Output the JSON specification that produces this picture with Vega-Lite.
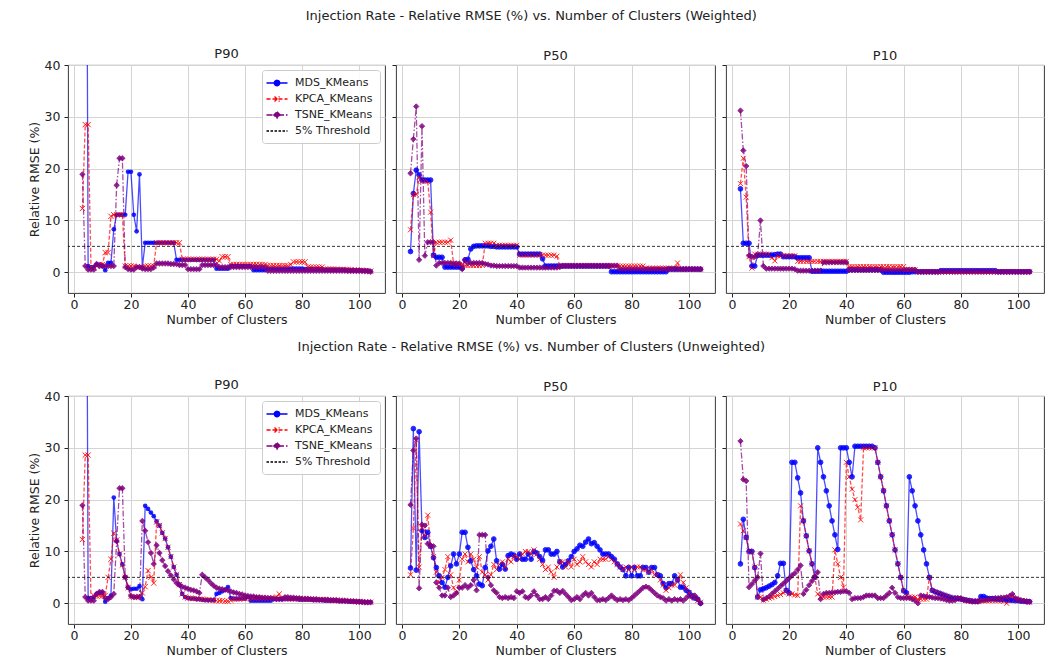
{
"$schema": "https://vega.github.io/schema/vega-lite/v6.json",
"background": "white",
"padding": {"left": 27, "top": 9, "right": 5, "bottom": 5},
"config": {
  "font": "DejaVu Sans",
  "view": {"stroke": "#222222", "strokeWidth": 0.9},
  "axis": {"domain": false, "grid": true, "gridColor": "#d4d4d4", "gridWidth": 1, "tickColor": "#222222", "tickSize": 4, "labelFontSize": 12.5, "labelColor": "#222222", "titleFontSize": 12.5, "titleFontWeight": "normal", "titleColor": "#222222", "labelPadding": 1, "titlePadding": 3},
  "title": {"fontSize": 13, "fontWeight": "normal", "color": "#222222", "offset": 2}
},
"datasets": {
"wp90": [
{"x":3,"mds":150,"kpca":12.3,"tsne":18.9},{"x":4,"mds":150,"kpca":28.5,"tsne":1.2},{"x":5,"mds":1.2,"kpca":28.5,"tsne":0.5},{"x":6,"mds":1.0,"kpca":1.0,"tsne":0.5},{"x":7,"mds":1.0,"kpca":0.8,"tsne":0.5},{"x":8,"mds":1.5,"kpca":1.2,"tsne":1.6},{"x":9,"mds":1.5,"kpca":1.5,"tsne":1.2},{"x":10,"mds":1.2,"kpca":1.5,"tsne":1.2},{"x":11,"mds":0.4,"kpca":3.8,"tsne":1.2},{"x":12,"mds":1.8,"kpca":3.8,"tsne":1.2},{"x":13,"mds":1.8,"kpca":10.8,"tsne":1.2},{"x":14,"mds":8.3,"kpca":11.1,"tsne":1.2},{"x":15,"mds":11.1,"kpca":11.1,"tsne":16.8},{"x":16,"mds":11.1,"kpca":11.1,"tsne":22},{"x":17,"mds":11.1,"kpca":11.1,"tsne":22},{"x":18,"mds":11.1,"kpca":1.2,"tsne":1.0},{"x":19,"mds":19.4,"kpca":1.2,"tsne":0.6},{"x":20,"mds":19.4,"kpca":1.2,"tsne":0.5},{"x":21,"mds":11.1,"kpca":1.2,"tsne":0.5},{"x":22,"mds":7.9,"kpca":1.0,"tsne":1.0},{"x":23,"mds":18.9,"kpca":1.0,"tsne":1.0},{"x":24,"mds":0.9,"kpca":1.0,"tsne":0.7},{"x":25,"mds":5.7,"kpca":1.2,"tsne":0.6},{"x":26,"mds":5.7,"kpca":1.2,"tsne":0.6},{"x":27,"mds":5.7,"kpca":1.2,"tsne":0.6},{"x":28,"mds":5.7,"kpca":1.2,"tsne":0.9},{"x":29,"mds":5.7,"kpca":5.7,"tsne":1.7},{"x":30,"mds":5.7,"kpca":5.7,"tsne":1.7},{"x":31,"mds":5.7,"kpca":5.7,"tsne":1.7},{"x":32,"mds":5.7,"kpca":5.7,"tsne":1.7},{"x":33,"mds":5.7,"kpca":5.7,"tsne":1.7},{"x":34,"mds":5.7,"kpca":5.7,"tsne":1.6},{"x":35,"mds":5.7,"kpca":5.7,"tsne":1.6},{"x":36,"mds":2.4,"kpca":5.7,"tsne":1.6},{"x":37,"mds":2.4,"kpca":5.7,"tsne":1.4},{"x":38,"mds":2.4,"kpca":2.5,"tsne":1.4},{"x":39,"mds":2.4,"kpca":2.5,"tsne":1.4},{"x":40,"mds":2.4,"kpca":2.5,"tsne":0.6},{"x":41,"mds":2.4,"kpca":2.5,"tsne":0.6},{"x":42,"mds":2.4,"kpca":2.5,"tsne":0.6},{"x":43,"mds":2.4,"kpca":2.5,"tsne":0.6},{"x":44,"mds":2.4,"kpca":2.5,"tsne":0.6},{"x":45,"mds":2.4,"kpca":2.5,"tsne":1.4},{"x":46,"mds":2.4,"kpca":2.5,"tsne":1.4},{"x":47,"mds":2.4,"kpca":2.5,"tsne":1.4},{"x":48,"mds":2.4,"kpca":2.5,"tsne":1.4},{"x":49,"mds":2.4,"kpca":2.5,"tsne":1.4},{"x":50,"mds":0.7,"kpca":2.5,"tsne":1.4},{"x":51,"mds":0.7,"kpca":2.2,"tsne":1.0},{"x":52,"mds":0.7,"kpca":3.0,"tsne":1.0},{"x":53,"mds":0.7,"kpca":3.0,"tsne":1.0},{"x":54,"mds":0.7,"kpca":3.0,"tsne":1.0},{"x":55,"mds":1.2,"kpca":1.5,"tsne":1.0},{"x":56,"mds":1.2,"kpca":1.5,"tsne":1.0},{"x":57,"mds":1.2,"kpca":1.5,"tsne":1.0},{"x":58,"mds":1.2,"kpca":1.5,"tsne":1.0},{"x":59,"mds":1.2,"kpca":1.5,"tsne":1.0},{"x":60,"mds":1.2,"kpca":1.5,"tsne":1.0},{"x":61,"mds":1.2,"kpca":1.5,"tsne":1.0},{"x":62,"mds":1.2,"kpca":1.5,"tsne":1.0},{"x":63,"mds":0.4,"kpca":1.5,"tsne":1.0},{"x":64,"mds":0.4,"kpca":1.5,"tsne":1.0},{"x":65,"mds":0.4,"kpca":1.5,"tsne":1.0},{"x":66,"mds":0.4,"kpca":1.5,"tsne":1.0},{"x":67,"mds":0.4,"kpca":1.5,"tsne":1.0},{"x":68,"mds":0.7,"kpca":1.3,"tsne":0.3},{"x":69,"mds":0.7,"kpca":1.3,"tsne":0.3},{"x":70,"mds":0.7,"kpca":1.3,"tsne":0.3},{"x":71,"mds":0.7,"kpca":1.3,"tsne":0.3},{"x":72,"mds":0.7,"kpca":1.3,"tsne":0.3},{"x":73,"mds":0.7,"kpca":1.3,"tsne":0.3},{"x":74,"mds":0.7,"kpca":1.3,"tsne":0.3},{"x":75,"mds":0.7,"kpca":1.3,"tsne":0.3},{"x":76,"mds":0.7,"kpca":1.5,"tsne":0.3},{"x":77,"mds":0.7,"kpca":2.0,"tsne":0.3},{"x":78,"mds":0.7,"kpca":2.0,"tsne":0.3},{"x":79,"mds":0.7,"kpca":2.0,"tsne":0.3},{"x":80,"mds":0.7,"kpca":2.0,"tsne":0.3},{"x":81,"mds":0.6,"kpca":2.0,"tsne":0.3},{"x":82,"mds":0.6,"kpca":1.0,"tsne":0.3},{"x":83,"mds":0.6,"kpca":1.0,"tsne":0.3},{"x":84,"mds":0.6,"kpca":1.0,"tsne":0.3},{"x":85,"mds":0.6,"kpca":1.0,"tsne":0.3},{"x":86,"mds":0.6,"kpca":1.0,"tsne":0.3},{"x":87,"mds":0.6,"kpca":1.0,"tsne":0.3},{"x":88,"mds":0.5,"kpca":0.6,"tsne":0.3},{"x":89,"mds":0.5,"kpca":0.6,"tsne":0.3},{"x":90,"mds":0.5,"kpca":0.6,"tsne":0.3},{"x":91,"mds":0.5,"kpca":0.6,"tsne":0.3},{"x":92,"mds":0.5,"kpca":0.6,"tsne":0.3},{"x":93,"mds":0.5,"kpca":0.5,"tsne":0.3},{"x":94,"mds":0.5,"kpca":0.5,"tsne":0.3},{"x":95,"mds":0.5,"kpca":0.5,"tsne":0.3},{"x":96,"mds":0.4,"kpca":0.5,"tsne":0.25},{"x":97,"mds":0.4,"kpca":0.5,"tsne":0.25},{"x":98,"mds":0.4,"kpca":0.4,"tsne":0.25},{"x":99,"mds":0.4,"kpca":0.4,"tsne":0.25},{"x":100,"mds":0.4,"kpca":0.4,"tsne":0.25},{"x":101,"mds":0.3,"kpca":0.4,"tsne":0.25},{"x":102,"mds":0.3,"kpca":0.3,"tsne":0.2},{"x":103,"mds":0.3,"kpca":0.3,"tsne":0.2},{"x":104,"mds":0.2,"kpca":0.2,"tsne":0.1}
],
"wp50": [
{"x":3,"mds":4.0,"kpca":8.2,"tsne":19.1},{"x":4,"mds":15.2,"kpca":15.0,"tsne":25.7},{"x":5,"mds":19.7,"kpca":15.0,"tsne":32.0},{"x":6,"mds":18.8,"kpca":18.3,"tsne":2.4},{"x":7,"mds":17.8,"kpca":17.6,"tsne":28.2},{"x":8,"mds":17.8,"kpca":17.6,"tsne":3.2},{"x":9,"mds":17.8,"kpca":17.5,"tsne":5.8},{"x":10,"mds":17.8,"kpca":11.6,"tsne":5.8},{"x":11,"mds":3.3,"kpca":3.2,"tsne":5.8},{"x":12,"mds":2.9,"kpca":5.8,"tsne":1.3},{"x":13,"mds":2.9,"kpca":5.8,"tsne":1.8},{"x":14,"mds":2.9,"kpca":5.8,"tsne":1.8},{"x":15,"mds":1.0,"kpca":5.8,"tsne":1.8},{"x":16,"mds":1.0,"kpca":5.8,"tsne":1.8},{"x":17,"mds":1.0,"kpca":6.2,"tsne":1.8},{"x":18,"mds":1.0,"kpca":1.7,"tsne":1.7},{"x":19,"mds":1.0,"kpca":1.5,"tsne":1.7},{"x":20,"mds":1.0,"kpca":1.5,"tsne":1.7},{"x":21,"mds":0.8,"kpca":1.5,"tsne":0.6},{"x":22,"mds":2.4,"kpca":1.3,"tsne":2.4},{"x":23,"mds":2.5,"kpca":1.3,"tsne":1.8},{"x":24,"mds":4.5,"kpca":1.3,"tsne":1.8},{"x":25,"mds":5.0,"kpca":1.3,"tsne":1.8},{"x":26,"mds":5.1,"kpca":1.3,"tsne":1.8},{"x":27,"mds":5.1,"kpca":1.3,"tsne":1.8},{"x":28,"mds":5.1,"kpca":1.3,"tsne":1.8},{"x":29,"mds":5.1,"kpca":5.6,"tsne":1.6},{"x":30,"mds":5.1,"kpca":5.6,"tsne":1.5},{"x":31,"mds":5.0,"kpca":5.6,"tsne":1.3},{"x":32,"mds":5.0,"kpca":5.6,"tsne":1.3},{"x":33,"mds":4.9,"kpca":5.2,"tsne":1.2},{"x":34,"mds":4.9,"kpca":5.2,"tsne":1.2},{"x":35,"mds":4.9,"kpca":5.2,"tsne":1.2},{"x":36,"mds":4.9,"kpca":5.2,"tsne":1.2},{"x":37,"mds":4.9,"kpca":5.2,"tsne":1.2},{"x":38,"mds":4.9,"kpca":5.2,"tsne":1.2},{"x":39,"mds":4.9,"kpca":5.2,"tsne":1.2},{"x":40,"mds":4.9,"kpca":5.2,"tsne":1.2},{"x":41,"mds":3.5,"kpca":3.3,"tsne":0.9},{"x":42,"mds":3.5,"kpca":3.3,"tsne":0.9},{"x":43,"mds":3.5,"kpca":3.3,"tsne":0.9},{"x":44,"mds":3.5,"kpca":3.3,"tsne":0.9},{"x":45,"mds":3.5,"kpca":3.3,"tsne":0.9},{"x":46,"mds":3.5,"kpca":3.3,"tsne":0.9},{"x":47,"mds":3.5,"kpca":3.3,"tsne":0.9},{"x":48,"mds":3.5,"kpca":3.3,"tsne":0.9},{"x":49,"mds":2.6,"kpca":3.3,"tsne":0.9},{"x":50,"mds":1.2,"kpca":3.3,"tsne":0.9},{"x":51,"mds":1.2,"kpca":3.3,"tsne":0.9},{"x":52,"mds":1.2,"kpca":3.3,"tsne":0.9},{"x":53,"mds":1.2,"kpca":3.3,"tsne":0.9},{"x":54,"mds":1.2,"kpca":3.1,"tsne":0.9},{"x":55,"mds":1.2,"kpca":1.2,"tsne":1.0},{"x":56,"mds":1.2,"kpca":1.2,"tsne":1.3},{"x":57,"mds":1.2,"kpca":1.2,"tsne":1.3},{"x":58,"mds":1.2,"kpca":1.2,"tsne":1.3},{"x":59,"mds":1.2,"kpca":1.2,"tsne":1.3},{"x":60,"mds":1.2,"kpca":1.2,"tsne":1.3},{"x":61,"mds":1.2,"kpca":1.2,"tsne":1.3},{"x":62,"mds":1.2,"kpca":1.2,"tsne":1.3},{"x":63,"mds":1.2,"kpca":1.2,"tsne":1.3},{"x":64,"mds":1.2,"kpca":1.2,"tsne":1.3},{"x":65,"mds":1.2,"kpca":1.2,"tsne":1.3},{"x":66,"mds":1.2,"kpca":1.2,"tsne":1.3},{"x":67,"mds":1.2,"kpca":1.2,"tsne":1.3},{"x":68,"mds":1.2,"kpca":1.2,"tsne":1.3},{"x":69,"mds":1.2,"kpca":1.2,"tsne":1.3},{"x":70,"mds":1.2,"kpca":1.2,"tsne":1.3},{"x":71,"mds":1.2,"kpca":1.2,"tsne":1.3},{"x":72,"mds":1.2,"kpca":1.2,"tsne":1.3},{"x":73,"mds":0.1,"kpca":1.2,"tsne":1.3},{"x":74,"mds":0.1,"kpca":1.2,"tsne":1.3},{"x":75,"mds":0.1,"kpca":1.2,"tsne":1.3},{"x":76,"mds":0.1,"kpca":1.2,"tsne":0.6},{"x":77,"mds":0.1,"kpca":1.2,"tsne":0.6},{"x":78,"mds":0.1,"kpca":1.2,"tsne":0.6},{"x":79,"mds":0.1,"kpca":1.2,"tsne":0.6},{"x":80,"mds":0.1,"kpca":1.2,"tsne":0.6},{"x":81,"mds":0.1,"kpca":1.2,"tsne":0.6},{"x":82,"mds":0.1,"kpca":1.2,"tsne":0.6},{"x":83,"mds":0.1,"kpca":1.2,"tsne":0.6},{"x":84,"mds":0.1,"kpca":1.2,"tsne":0.6},{"x":85,"mds":0.1,"kpca":0.8,"tsne":0.6},{"x":86,"mds":0.1,"kpca":0.8,"tsne":0.6},{"x":87,"mds":0.1,"kpca":0.8,"tsne":0.6},{"x":88,"mds":0.1,"kpca":0.8,"tsne":0.6},{"x":89,"mds":0.1,"kpca":0.8,"tsne":0.6},{"x":90,"mds":0.1,"kpca":0.8,"tsne":0.6},{"x":91,"mds":0.1,"kpca":0.8,"tsne":0.6},{"x":92,"mds":0.1,"kpca":0.8,"tsne":0.6},{"x":93,"mds":0.6,"kpca":0.8,"tsne":0.6},{"x":94,"mds":0.6,"kpca":0.8,"tsne":0.6},{"x":95,"mds":0.6,"kpca":0.8,"tsne":0.6},{"x":96,"mds":0.6,"kpca":1.8,"tsne":0.6},{"x":97,"mds":0.6,"kpca":0.6,"tsne":0.6},{"x":98,"mds":0.6,"kpca":0.6,"tsne":0.6},{"x":99,"mds":0.6,"kpca":0.6,"tsne":0.6},{"x":100,"mds":0.6,"kpca":0.6,"tsne":0.6},{"x":101,"mds":0.6,"kpca":0.6,"tsne":0.6},{"x":102,"mds":0.6,"kpca":0.6,"tsne":0.6},{"x":103,"mds":0.6,"kpca":0.6,"tsne":0.6},{"x":104,"mds":0.6,"kpca":0.6,"tsne":0.6}
],
"wp10": [
{"x":3,"mds":16.1,"kpca":17.1,"tsne":31.2},{"x":4,"mds":5.6,"kpca":22.0,"tsne":23.5},{"x":5,"mds":5.6,"kpca":14.5,"tsne":20.5},{"x":6,"mds":5.6,"kpca":3.0,"tsne":3.2},{"x":7,"mds":1.2,"kpca":0.8,"tsne":3.0},{"x":8,"mds":1.2,"kpca":3.5,"tsne":3.0},{"x":9,"mds":3.3,"kpca":3.5,"tsne":3.2},{"x":10,"mds":3.3,"kpca":3.5,"tsne":10.0},{"x":11,"mds":3.3,"kpca":3.5,"tsne":1.2},{"x":12,"mds":3.3,"kpca":3.5,"tsne":0.7},{"x":13,"mds":3.3,"kpca":3.5,"tsne":0.7},{"x":14,"mds":3.3,"kpca":2.8,"tsne":0.7},{"x":15,"mds":3.4,"kpca":2.2,"tsne":0.7},{"x":16,"mds":3.5,"kpca":3.2,"tsne":0.7},{"x":17,"mds":3.5,"kpca":3.2,"tsne":0.7},{"x":18,"mds":3.0,"kpca":3.2,"tsne":0.7},{"x":19,"mds":3.0,"kpca":3.2,"tsne":0.7},{"x":20,"mds":3.0,"kpca":3.2,"tsne":0.7},{"x":21,"mds":3.0,"kpca":3.2,"tsne":0.7},{"x":22,"mds":3.0,"kpca":3.2,"tsne":0.6},{"x":23,"mds":2.8,"kpca":2.1,"tsne":0.3},{"x":24,"mds":2.8,"kpca":2.1,"tsne":0.3},{"x":25,"mds":2.8,"kpca":2.1,"tsne":0.3},{"x":26,"mds":2.8,"kpca":2.1,"tsne":0.3},{"x":27,"mds":2.8,"kpca":2.1,"tsne":0.3},{"x":28,"mds":0.2,"kpca":2.1,"tsne":0.3},{"x":29,"mds":0.2,"kpca":2.1,"tsne":0.3},{"x":30,"mds":0.2,"kpca":2.1,"tsne":0.3},{"x":31,"mds":0.2,"kpca":2.1,"tsne":0.3},{"x":32,"mds":0.2,"kpca":2.1,"tsne":1.9},{"x":33,"mds":0.2,"kpca":2.1,"tsne":1.9},{"x":34,"mds":0.2,"kpca":2.1,"tsne":1.9},{"x":35,"mds":0.2,"kpca":2.1,"tsne":1.9},{"x":36,"mds":0.2,"kpca":2.1,"tsne":1.9},{"x":37,"mds":0.2,"kpca":2.1,"tsne":1.9},{"x":38,"mds":0.2,"kpca":2.1,"tsne":1.9},{"x":39,"mds":0.2,"kpca":2.1,"tsne":1.9},{"x":40,"mds":0.2,"kpca":2.1,"tsne":1.9},{"x":41,"mds":0.5,"kpca":1.1,"tsne":0.4},{"x":42,"mds":0.5,"kpca":1.1,"tsne":0.4},{"x":43,"mds":0.5,"kpca":1.1,"tsne":0.4},{"x":44,"mds":0.5,"kpca":1.1,"tsne":0.4},{"x":45,"mds":0.5,"kpca":1.1,"tsne":0.4},{"x":46,"mds":0.5,"kpca":1.1,"tsne":0.4},{"x":47,"mds":0.5,"kpca":1.1,"tsne":0.4},{"x":48,"mds":0.5,"kpca":1.1,"tsne":0.4},{"x":49,"mds":0.5,"kpca":1.1,"tsne":0.4},{"x":50,"mds":0.5,"kpca":1.1,"tsne":0.4},{"x":51,"mds":0.5,"kpca":1.1,"tsne":0.4},{"x":52,"mds":0.5,"kpca":1.1,"tsne":0.4},{"x":53,"mds":0.0,"kpca":1.1,"tsne":0.4},{"x":54,"mds":0.0,"kpca":1.1,"tsne":0.4},{"x":55,"mds":0.0,"kpca":1.1,"tsne":0.4},{"x":56,"mds":0.0,"kpca":1.1,"tsne":0.4},{"x":57,"mds":0.0,"kpca":1.1,"tsne":0.4},{"x":58,"mds":0.0,"kpca":1.1,"tsne":0.4},{"x":59,"mds":0.0,"kpca":1.1,"tsne":0.4},{"x":60,"mds":0.0,"kpca":1.1,"tsne":0.4},{"x":61,"mds":0.0,"kpca":0.5,"tsne":0.5},{"x":62,"mds":0.0,"kpca":0.5,"tsne":0.5},{"x":63,"mds":0.1,"kpca":0.5,"tsne":0.5},{"x":64,"mds":0.1,"kpca":0.5,"tsne":0.5},{"x":65,"mds":0.1,"kpca":0.1,"tsne":0.1},{"x":66,"mds":0.1,"kpca":0.1,"tsne":0.1},{"x":67,"mds":0.1,"kpca":0.1,"tsne":0.1},{"x":68,"mds":0.1,"kpca":0.1,"tsne":0.1},{"x":69,"mds":0.1,"kpca":0.1,"tsne":0.1},{"x":70,"mds":0.1,"kpca":0.1,"tsne":0.1},{"x":71,"mds":0.1,"kpca":0.1,"tsne":0.1},{"x":72,"mds":0.1,"kpca":0.1,"tsne":0.1},{"x":73,"mds":0.3,"kpca":0.1,"tsne":0.1},{"x":74,"mds":0.3,"kpca":0.1,"tsne":0.1},{"x":75,"mds":0.3,"kpca":0.1,"tsne":0.1},{"x":76,"mds":0.3,"kpca":0.1,"tsne":0.1},{"x":77,"mds":0.3,"kpca":0.1,"tsne":0.1},{"x":78,"mds":0.3,"kpca":0.1,"tsne":0.1},{"x":79,"mds":0.3,"kpca":0.1,"tsne":0.1},{"x":80,"mds":0.3,"kpca":0.1,"tsne":0.1},{"x":81,"mds":0.3,"kpca":0.1,"tsne":0.1},{"x":82,"mds":0.3,"kpca":0.1,"tsne":0.1},{"x":83,"mds":0.3,"kpca":0.1,"tsne":0.1},{"x":84,"mds":0.3,"kpca":0.1,"tsne":0.1},{"x":85,"mds":0.3,"kpca":0.1,"tsne":0.1},{"x":86,"mds":0.3,"kpca":0.1,"tsne":0.1},{"x":87,"mds":0.3,"kpca":0.1,"tsne":0.1},{"x":88,"mds":0.3,"kpca":0.1,"tsne":0.1},{"x":89,"mds":0.3,"kpca":0.1,"tsne":0.1},{"x":90,"mds":0.3,"kpca":0.1,"tsne":0.1},{"x":91,"mds":0.3,"kpca":0.1,"tsne":0.1},{"x":92,"mds":0.3,"kpca":0.1,"tsne":0.1},{"x":93,"mds":0.1,"kpca":0.1,"tsne":0.1},{"x":94,"mds":0.1,"kpca":0.1,"tsne":0.1},{"x":95,"mds":0.1,"kpca":0.1,"tsne":0.1},{"x":96,"mds":0.1,"kpca":0.1,"tsne":0.1},{"x":97,"mds":0.1,"kpca":0.1,"tsne":0.1},{"x":98,"mds":0.1,"kpca":0.1,"tsne":0.1},{"x":99,"mds":0.1,"kpca":0.1,"tsne":0.1},{"x":100,"mds":0.1,"kpca":0.1,"tsne":0.1},{"x":101,"mds":0.1,"kpca":0.1,"tsne":0.1},{"x":102,"mds":0.1,"kpca":0.1,"tsne":0.1},{"x":103,"mds":0.1,"kpca":0.1,"tsne":0.1},{"x":104,"mds":0.1,"kpca":0.1,"tsne":0.1}
],
"up90": [
{"x":3,"mds":150,"kpca":12.3,"tsne":18.9},{"x":4,"mds":150,"kpca":28.6,"tsne":1.2},{"x":5,"mds":1.0,"kpca":28.6,"tsne":0.5},{"x":6,"mds":1.0,"kpca":1.0,"tsne":0.5},{"x":7,"mds":1.2,"kpca":1.5,"tsne":0.5},{"x":8,"mds":1.8,"kpca":1.4,"tsne":1.8},{"x":9,"mds":2.0,"kpca":1.4,"tsne":2.2},{"x":10,"mds":2.0,"kpca":1.4,"tsne":2.2},{"x":11,"mds":0.3,"kpca":1.5,"tsne":1.0},{"x":12,"mds":1.0,"kpca":5.0,"tsne":0.8},{"x":13,"mds":1.5,"kpca":8.5,"tsne":1.2},{"x":14,"mds":20.4,"kpca":13.5,"tsne":1.8},{"x":15,"mds":12.0,"kpca":12.2,"tsne":12.0},{"x":16,"mds":9.5,"kpca":9.5,"tsne":22.2},{"x":17,"mds":7.5,"kpca":7.4,"tsne":22.2},{"x":18,"mds":5.0,"kpca":5.0,"tsne":5.1},{"x":19,"mds":3.0,"kpca":3.0,"tsne":3.1},{"x":20,"mds":2.7,"kpca":1.3,"tsne":1.4},{"x":21,"mds":2.8,"kpca":1.2,"tsne":1.2},{"x":22,"mds":2.8,"kpca":1.2,"tsne":1.2},{"x":23,"mds":3.3,"kpca":1.3,"tsne":1.2},{"x":24,"mds":0.8,"kpca":2.0,"tsne":15.9},{"x":25,"mds":18.8,"kpca":3.2,"tsne":14.0},{"x":26,"mds":18.2,"kpca":6.3,"tsne":11.8},{"x":27,"mds":17.5,"kpca":5.0,"tsne":9.7},{"x":28,"mds":16.8,"kpca":3.9,"tsne":7.6},{"x":29,"mds":15.8,"kpca":15.7,"tsne":11.2},{"x":30,"mds":15.0,"kpca":15.0,"tsne":9.7},{"x":31,"mds":13.6,"kpca":13.6,"tsne":8.3},{"x":32,"mds":12.5,"kpca":12.5,"tsne":7.2},{"x":33,"mds":10.8,"kpca":10.8,"tsne":6.2},{"x":34,"mds":9.0,"kpca":9.0,"tsne":5.4},{"x":35,"mds":7.0,"kpca":7.0,"tsne":4.6},{"x":36,"mds":5.5,"kpca":5.5,"tsne":3.9},{"x":37,"mds":3.6,"kpca":3.6,"tsne":3.5},{"x":38,"mds":1.8,"kpca":1.8,"tsne":3.2},{"x":39,"mds":1.2,"kpca":1.2,"tsne":3.0},{"x":40,"mds":1.0,"kpca":1.0,"tsne":2.8},{"x":41,"mds":0.9,"kpca":1.0,"tsne":2.6},{"x":42,"mds":0.9,"kpca":0.9,"tsne":2.5},{"x":43,"mds":0.8,"kpca":0.9,"tsne":2.3},{"x":44,"mds":0.8,"kpca":0.8,"tsne":2.0},{"x":45,"mds":0.7,"kpca":0.8,"tsne":5.5},{"x":46,"mds":0.6,"kpca":0.7,"tsne":5.0},{"x":47,"mds":0.6,"kpca":0.7,"tsne":4.5},{"x":48,"mds":0.6,"kpca":0.6,"tsne":3.9},{"x":49,"mds":0.6,"kpca":0.6,"tsne":3.4},{"x":50,"mds":1.8,"kpca":0.5,"tsne":3.0},{"x":51,"mds":2.0,"kpca":0.5,"tsne":2.8},{"x":52,"mds":2.3,"kpca":0.5,"tsne":2.7},{"x":53,"mds":2.6,"kpca":0.4,"tsne":2.6},{"x":54,"mds":3.1,"kpca":0.4,"tsne":2.5},{"x":55,"mds":1.0,"kpca":0.6,"tsne":2.3},{"x":56,"mds":0.9,"kpca":0.8,"tsne":2.1},{"x":57,"mds":0.9,"kpca":0.8,"tsne":2.0},{"x":58,"mds":0.9,"kpca":0.8,"tsne":1.8},{"x":59,"mds":0.9,"kpca":0.9,"tsne":1.7},{"x":60,"mds":0.9,"kpca":0.9,"tsne":1.5},{"x":61,"mds":1.2,"kpca":1.0,"tsne":1.4},{"x":62,"mds":0.5,"kpca":1.0,"tsne":1.3},{"x":63,"mds":0.5,"kpca":1.0,"tsne":1.3},{"x":64,"mds":0.5,"kpca":1.0,"tsne":1.2},{"x":65,"mds":0.5,"kpca":1.0,"tsne":1.2},{"x":66,"mds":0.5,"kpca":1.0,"tsne":1.1},{"x":67,"mds":0.5,"kpca":1.0,"tsne":1.1},{"x":68,"mds":0.5,"kpca":1.0,"tsne":1.0},{"x":69,"mds":0.5,"kpca":1.0,"tsne":1.0},{"x":70,"mds":0.8,"kpca":1.0,"tsne":0.9},{"x":71,"mds":0.8,"kpca":1.2,"tsne":0.8},{"x":72,"mds":0.8,"kpca":1.8,"tsne":0.8},{"x":73,"mds":0.8,"kpca":1.0,"tsne":0.8},{"x":74,"mds":0.8,"kpca":0.9,"tsne":1.2},{"x":75,"mds":0.8,"kpca":0.9,"tsne":1.2},{"x":76,"mds":0.8,"kpca":0.9,"tsne":1.1},{"x":77,"mds":0.8,"kpca":0.9,"tsne":1.1},{"x":78,"mds":0.8,"kpca":0.9,"tsne":1.0},{"x":79,"mds":0.7,"kpca":0.9,"tsne":1.0},{"x":80,"mds":0.7,"kpca":0.8,"tsne":0.9},{"x":81,"mds":0.7,"kpca":0.8,"tsne":0.9},{"x":82,"mds":0.7,"kpca":0.8,"tsne":0.9},{"x":83,"mds":0.7,"kpca":0.8,"tsne":0.8},{"x":84,"mds":0.6,"kpca":0.8,"tsne":0.8},{"x":85,"mds":0.6,"kpca":0.7,"tsne":0.8},{"x":86,"mds":0.6,"kpca":0.7,"tsne":0.7},{"x":87,"mds":0.6,"kpca":0.7,"tsne":0.7},{"x":88,"mds":0.5,"kpca":0.7,"tsne":0.7},{"x":89,"mds":0.5,"kpca":0.6,"tsne":0.7},{"x":90,"mds":0.5,"kpca":0.6,"tsne":0.6},{"x":91,"mds":0.5,"kpca":0.6,"tsne":0.6},{"x":92,"mds":0.5,"kpca":0.6,"tsne":0.6},{"x":93,"mds":0.4,"kpca":0.5,"tsne":0.5},{"x":94,"mds":0.4,"kpca":0.5,"tsne":0.5},{"x":95,"mds":0.4,"kpca":0.5,"tsne":0.5},{"x":96,"mds":0.4,"kpca":0.4,"tsne":0.4},{"x":97,"mds":0.3,"kpca":0.4,"tsne":0.4},{"x":98,"mds":0.3,"kpca":0.4,"tsne":0.4},{"x":99,"mds":0.3,"kpca":0.3,"tsne":0.3},{"x":100,"mds":0.3,"kpca":0.3,"tsne":0.3},{"x":101,"mds":0.2,"kpca":0.3,"tsne":0.3},{"x":102,"mds":0.2,"kpca":0.2,"tsne":0.2},{"x":103,"mds":0.2,"kpca":0.2,"tsne":0.2},{"x":104,"mds":0.2,"kpca":0.2,"tsne":0.2}
],
"up50": [
{"x":3,"mds":6.8,"kpca":5.5,"tsne":19.0},{"x":4,"mds":33.7,"kpca":14.5,"tsne":29.5},{"x":5,"mds":6.4,"kpca":31.5,"tsne":31.8},{"x":6,"mds":33.1,"kpca":7.0,"tsne":2.9},{"x":7,"mds":14.0,"kpca":14.5,"tsne":15.2},{"x":8,"mds":12.7,"kpca":13.0,"tsne":15.0},{"x":9,"mds":13.7,"kpca":17.0,"tsne":11.5},{"x":10,"mds":11.0,"kpca":11.0,"tsne":11.2},{"x":11,"mds":8.8,"kpca":9.0,"tsne":11.0},{"x":12,"mds":6.9,"kpca":6.0,"tsne":4.0},{"x":13,"mds":5.3,"kpca":4.0,"tsne":3.0},{"x":14,"mds":4.0,"kpca":5.0,"tsne":1.5},{"x":15,"mds":3.1,"kpca":6.5,"tsne":1.5},{"x":16,"mds":5.0,"kpca":9.0,"tsne":3.0},{"x":17,"mds":7.2,"kpca":5.5,"tsne":1.2},{"x":18,"mds":9.5,"kpca":3.0,"tsne":1.5},{"x":19,"mds":7.6,"kpca":2.0,"tsne":2.0},{"x":20,"mds":9.5,"kpca":4.5,"tsne":3.0},{"x":21,"mds":13.7,"kpca":8.5,"tsne":3.0},{"x":22,"mds":13.7,"kpca":9.5,"tsne":3.5},{"x":23,"mds":10.8,"kpca":8.0,"tsne":3.0},{"x":24,"mds":8.2,"kpca":9.5,"tsne":3.5},{"x":25,"mds":6.5,"kpca":8.5,"tsne":4.5},{"x":26,"mds":5.3,"kpca":7.0,"tsne":2.5},{"x":27,"mds":3.7,"kpca":9.0,"tsne":13.2},{"x":28,"mds":3.4,"kpca":6.0,"tsne":13.2},{"x":29,"mds":6.9,"kpca":5.5,"tsne":13.2},{"x":30,"mds":10.1,"kpca":4.5,"tsne":5.0},{"x":31,"mds":11.0,"kpca":5.5,"tsne":3.5},{"x":32,"mds":12.4,"kpca":7.5,"tsne":2.5},{"x":33,"mds":8.2,"kpca":6.5,"tsne":2.0},{"x":34,"mds":6.6,"kpca":7.5,"tsne":1.2},{"x":35,"mds":7.5,"kpca":8.0,"tsne":1.0},{"x":36,"mds":6.6,"kpca":7.0,"tsne":1.2},{"x":37,"mds":9.2,"kpca":8.5,"tsne":1.0},{"x":38,"mds":9.5,"kpca":8.0,"tsne":1.2},{"x":39,"mds":9.3,"kpca":9.0,"tsne":1.0},{"x":40,"mds":8.5,"kpca":9.0,"tsne":2.3},{"x":41,"mds":9.5,"kpca":8.5,"tsne":2.0},{"x":42,"mds":8.5,"kpca":9.5,"tsne":2.3},{"x":43,"mds":8.5,"kpca":10.0,"tsne":1.2},{"x":44,"mds":9.5,"kpca":10.0,"tsne":1.0},{"x":45,"mds":8.5,"kpca":9.5,"tsne":1.5},{"x":46,"mds":10.0,"kpca":10.3,"tsne":2.3},{"x":47,"mds":9.7,"kpca":9.5,"tsne":1.5},{"x":48,"mds":9.0,"kpca":8.5,"tsne":0.8},{"x":49,"mds":8.3,"kpca":7.5,"tsne":0.8},{"x":50,"mds":10.3,"kpca":6.5,"tsne":1.2},{"x":51,"mds":10.3,"kpca":7.0,"tsne":0.8},{"x":52,"mds":9.5,"kpca":6.0,"tsne":1.5},{"x":53,"mds":9.5,"kpca":5.0,"tsne":2.4},{"x":54,"mds":10.0,"kpca":7.0,"tsne":2.4},{"x":55,"mds":8.0,"kpca":8.0,"tsne":2.0},{"x":56,"mds":7.0,"kpca":8.0,"tsne":2.4},{"x":57,"mds":7.5,"kpca":7.0,"tsne":1.8},{"x":58,"mds":8.2,"kpca":8.0,"tsne":1.2},{"x":59,"mds":9.0,"kpca":7.0,"tsne":0.6},{"x":60,"mds":10.0,"kpca":8.5,"tsne":0.8},{"x":61,"mds":10.5,"kpca":7.5,"tsne":1.2},{"x":62,"mds":11.2,"kpca":8.0,"tsne":0.8},{"x":63,"mds":11.0,"kpca":9.0,"tsne":1.5},{"x":64,"mds":11.8,"kpca":8.0,"tsne":2.0},{"x":65,"mds":12.4,"kpca":7.5,"tsne":1.5},{"x":66,"mds":11.5,"kpca":7.0,"tsne":2.0},{"x":67,"mds":11.7,"kpca":8.0,"tsne":1.2},{"x":68,"mds":11.0,"kpca":7.5,"tsne":0.6},{"x":69,"mds":10.3,"kpca":8.5,"tsne":0.6},{"x":70,"mds":9.5,"kpca":8.5,"tsne":0.8},{"x":71,"mds":9.5,"kpca":8.5,"tsne":0.6},{"x":72,"mds":9.5,"kpca":9.0,"tsne":1.0},{"x":73,"mds":9.0,"kpca":8.5,"tsne":1.5},{"x":74,"mds":8.5,"kpca":8.0,"tsne":1.0},{"x":75,"mds":7.6,"kpca":7.5,"tsne":0.6},{"x":76,"mds":7.0,"kpca":7.0,"tsne":0.8},{"x":77,"mds":6.5,"kpca":6.5,"tsne":0.6},{"x":78,"mds":5.3,"kpca":7.0,"tsne":0.8},{"x":79,"mds":6.9,"kpca":6.5,"tsne":0.6},{"x":80,"mds":5.3,"kpca":7.0,"tsne":1.0},{"x":81,"mds":6.9,"kpca":6.5,"tsne":1.5},{"x":82,"mds":5.3,"kpca":7.0,"tsne":2.0},{"x":83,"mds":5.3,"kpca":7.0,"tsne":2.5},{"x":84,"mds":6.9,"kpca":6.5,"tsne":3.0},{"x":85,"mds":6.9,"kpca":6.5,"tsne":3.2},{"x":86,"mds":6.0,"kpca":6.0,"tsne":3.0},{"x":87,"mds":6.9,"kpca":6.5,"tsne":2.5},{"x":88,"mds":6.9,"kpca":5.5,"tsne":2.0},{"x":89,"mds":5.5,"kpca":5.5,"tsne":1.5},{"x":90,"mds":5.3,"kpca":4.5,"tsne":1.2},{"x":91,"mds":3.8,"kpca":3.5,"tsne":1.0},{"x":92,"mds":3.0,"kpca":2.5,"tsne":0.5},{"x":93,"mds":3.8,"kpca":3.0,"tsne":0.8},{"x":94,"mds":3.8,"kpca":3.5,"tsne":0.5},{"x":95,"mds":5.3,"kpca":3.5,"tsne":0.8},{"x":96,"mds":4.5,"kpca":4.5,"tsne":0.6},{"x":97,"mds":3.1,"kpca":5.5,"tsne":0.8},{"x":98,"mds":3.1,"kpca":4.0,"tsne":0.5},{"x":99,"mds":2.5,"kpca":3.0,"tsne":1.0},{"x":100,"mds":2.1,"kpca":2.0,"tsne":1.5},{"x":101,"mds":1.5,"kpca":1.5,"tsne":1.2},{"x":102,"mds":1.0,"kpca":1.0,"tsne":1.5},{"x":103,"mds":0.8,"kpca":0.5,"tsne":0.8},{"x":104,"mds":0.0,"kpca":0.2,"tsne":0.0}
],
"up10": [
{"x":3,"mds":7.6,"kpca":15.3,"tsne":31.3},{"x":4,"mds":16.2,"kpca":14.0,"tsne":23.9},{"x":5,"mds":12.7,"kpca":12.7,"tsne":23.6},{"x":6,"mds":10.0,"kpca":10.1,"tsne":3.1},{"x":7,"mds":10.0,"kpca":9.8,"tsne":3.7},{"x":8,"mds":6.9,"kpca":7.0,"tsne":4.4},{"x":9,"mds":1.2,"kpca":1.2,"tsne":5.0},{"x":10,"mds":2.6,"kpca":1.2,"tsne":9.6},{"x":11,"mds":2.8,"kpca":0.6,"tsne":0.7},{"x":12,"mds":3.0,"kpca":0.8,"tsne":1.0},{"x":13,"mds":3.3,"kpca":1.0,"tsne":1.3},{"x":14,"mds":3.6,"kpca":1.1,"tsne":1.8},{"x":15,"mds":4.0,"kpca":1.3,"tsne":2.3},{"x":16,"mds":5.3,"kpca":1.5,"tsne":2.8},{"x":17,"mds":7.7,"kpca":1.7,"tsne":3.3},{"x":18,"mds":7.7,"kpca":2.0,"tsne":3.8},{"x":19,"mds":2.5,"kpca":2.4,"tsne":4.3},{"x":20,"mds":2.0,"kpca":1.8,"tsne":4.8},{"x":21,"mds":27.2,"kpca":1.8,"tsne":5.4},{"x":22,"mds":27.2,"kpca":1.6,"tsne":5.8},{"x":23,"mds":24.2,"kpca":1.5,"tsne":6.5},{"x":24,"mds":21.3,"kpca":18.8,"tsne":7.3},{"x":25,"mds":15.9,"kpca":15.9,"tsne":1.8},{"x":26,"mds":13.0,"kpca":13.0,"tsne":2.6},{"x":27,"mds":10.1,"kpca":10.1,"tsne":3.5},{"x":28,"mds":7.6,"kpca":7.6,"tsne":4.3},{"x":29,"mds":5.0,"kpca":5.0,"tsne":5.2},{"x":30,"mds":30.0,"kpca":1.8,"tsne":6.0},{"x":31,"mds":27.2,"kpca":1.2,"tsne":0.8},{"x":32,"mds":24.4,"kpca":1.2,"tsne":1.8},{"x":33,"mds":21.7,"kpca":1.2,"tsne":2.0},{"x":34,"mds":18.8,"kpca":1.2,"tsne":2.0},{"x":35,"mds":15.9,"kpca":1.2,"tsne":2.1},{"x":36,"mds":13.2,"kpca":10.3,"tsne":2.1},{"x":37,"mds":10.4,"kpca":7.6,"tsne":2.2},{"x":38,"mds":30.0,"kpca":5.0,"tsne":2.2},{"x":39,"mds":30.0,"kpca":3.1,"tsne":2.3},{"x":40,"mds":30.0,"kpca":27.2,"tsne":2.3},{"x":41,"mds":27.2,"kpca":24.4,"tsne":2.0},{"x":42,"mds":24.4,"kpca":22.0,"tsne":0.8},{"x":43,"mds":30.3,"kpca":20.0,"tsne":1.0},{"x":44,"mds":30.3,"kpca":18.5,"tsne":1.0},{"x":45,"mds":30.3,"kpca":16.1,"tsne":1.0},{"x":46,"mds":30.3,"kpca":30.0,"tsne":1.2},{"x":47,"mds":30.3,"kpca":30.0,"tsne":1.5},{"x":48,"mds":30.3,"kpca":30.0,"tsne":1.5},{"x":49,"mds":30.3,"kpca":30.0,"tsne":1.5},{"x":50,"mds":30.0,"kpca":30.0,"tsne":1.5},{"x":51,"mds":27.2,"kpca":27.2,"tsne":1.0},{"x":52,"mds":24.4,"kpca":24.4,"tsne":1.0},{"x":53,"mds":21.7,"kpca":21.7,"tsne":1.0},{"x":54,"mds":18.8,"kpca":18.8,"tsne":1.5},{"x":55,"mds":15.9,"kpca":15.9,"tsne":2.0},{"x":56,"mds":13.2,"kpca":13.2,"tsne":3.0},{"x":57,"mds":10.3,"kpca":10.3,"tsne":2.0},{"x":58,"mds":7.6,"kpca":7.6,"tsne":1.2},{"x":59,"mds":5.0,"kpca":5.0,"tsne":1.0},{"x":60,"mds":2.4,"kpca":2.4,"tsne":1.0},{"x":61,"mds":2.0,"kpca":1.5,"tsne":1.0},{"x":62,"mds":24.4,"kpca":1.2,"tsne":1.0},{"x":63,"mds":21.7,"kpca":1.2,"tsne":0.8},{"x":64,"mds":18.8,"kpca":1.2,"tsne":0.5},{"x":65,"mds":15.9,"kpca":0.8,"tsne":0.0},{"x":66,"mds":13.2,"kpca":0.8,"tsne":1.5},{"x":67,"mds":10.3,"kpca":0.8,"tsne":1.4},{"x":68,"mds":7.6,"kpca":0.8,"tsne":1.3},{"x":69,"mds":5.0,"kpca":5.0,"tsne":1.2},{"x":70,"mds":2.5,"kpca":2.5,"tsne":1.1},{"x":71,"mds":2.2,"kpca":2.2,"tsne":1.0},{"x":72,"mds":2.0,"kpca":2.0,"tsne":1.0},{"x":73,"mds":1.8,"kpca":1.8,"tsne":0.9},{"x":74,"mds":1.6,"kpca":1.6,"tsne":0.8},{"x":75,"mds":1.4,"kpca":1.4,"tsne":0.6},{"x":76,"mds":1.2,"kpca":1.2,"tsne":0.5},{"x":77,"mds":1.0,"kpca":1.0,"tsne":0.5},{"x":78,"mds":1.0,"kpca":1.0,"tsne":0.6},{"x":79,"mds":0.9,"kpca":0.9,"tsne":1.0},{"x":80,"mds":0.8,"kpca":0.8,"tsne":1.0},{"x":81,"mds":0.7,"kpca":0.7,"tsne":0.6},{"x":82,"mds":0.6,"kpca":0.6,"tsne":0.5},{"x":83,"mds":0.5,"kpca":0.5,"tsne":0.4},{"x":84,"mds":0.4,"kpca":0.4,"tsne":0.3},{"x":85,"mds":0.4,"kpca":0.4,"tsne":0.3},{"x":86,"mds":0.4,"kpca":0.4,"tsne":0.3},{"x":87,"mds":1.3,"kpca":0.5,"tsne":0.5},{"x":88,"mds":1.3,"kpca":0.5,"tsne":0.6},{"x":89,"mds":1.0,"kpca":0.5,"tsne":0.7},{"x":90,"mds":0.9,"kpca":0.5,"tsne":0.8},{"x":91,"mds":0.9,"kpca":0.5,"tsne":0.9},{"x":92,"mds":0.8,"kpca":0.5,"tsne":1.0},{"x":93,"mds":0.8,"kpca":0.5,"tsne":1.0},{"x":94,"mds":0.7,"kpca":0.5,"tsne":1.1},{"x":95,"mds":0.7,"kpca":0.4,"tsne":1.1},{"x":96,"mds":0.6,"kpca":0.0,"tsne":1.2},{"x":97,"mds":0.6,"kpca":0.5,"tsne":1.4},{"x":98,"mds":0.6,"kpca":1.5,"tsne":1.8},{"x":99,"mds":0.5,"kpca":0.8,"tsne":1.0},{"x":100,"mds":0.5,"kpca":0.6,"tsne":0.8},{"x":101,"mds":0.4,"kpca":0.5,"tsne":0.6},{"x":102,"mds":0.4,"kpca":0.4,"tsne":0.5},{"x":103,"mds":0.3,"kpca":0.3,"tsne":0.4},{"x":104,"mds":0.3,"kpca":0.2,"tsne":0.3}
]
},
"resolve": {"scale": {"color": "independent", "stroke": "independent", "strokeDash": "independent", "shape": "independent", "fill": "independent", "size": "independent"}, "legend": {"color": "independent", "strokeDash": "independent", "shape": "independent", "fill": "independent"}},
"spacing": 13,
"vconcat": [
{
 "title": {"text": "Injection Rate - Relative RMSE (%) vs. Number of Clusters (Weighted)", "fontSize": 13, "anchor": "middle", "offset": 25, "dx": -5},
 "spacing": 5,
 "resolve": {"scale": {"color": "independent", "stroke": "independent", "strokeDash": "independent", "shape": "independent", "fill": "independent", "size": "independent"}, "legend": {"color": "independent", "strokeDash": "independent", "shape": "independent", "fill": "independent"}},
 "hconcat": [
  {"width": 317, "height": 228, "title": {"text": "P90", "offset": -2},
   "layer": [
    {"data": {"name": "wp90"}, "transform": [{"fold": ["mds","kpca","tsne"], "as": ["method","y"]}],
     "encoding": {
      "x": {"field": "x", "type": "quantitative", "scale": {"domain": [-2.05, 109.05], "nice": false, "zero": false}, "axis": {"values": [0,20,40,60,80,100], "title": "Number of Clusters", "labelFlush": false}},
      "y": {"field": "y", "type": "quantitative", "scale": {"domain": [-4, 40], "nice": false, "zero": false}, "axis": {"values": [0,10,20,30,40], "title": "Relative RMSE (%)", "labelPadding": 4}}
     },
     "layer": [
      {"mark": {"type": "line", "clip": true, "strokeWidth": 1.3, "opacity": 0.7},
       "encoding": {
        "color": {"field": "method", "type": "nominal", "scale": {"domain": ["mds","kpca","tsne","thr"], "range": ["#0000ff","#ff0000","#800080","#000000"]},
         "legend": {"orient": "top-right", "offset": 5, "title": null, "labelExpr": "{'mds':'MDS_KMeans','kpca':'KPCA_KMeans','tsne':'TSNE_KMeans','thr':'5% Threshold'}[datum.label]", "labelFontSize": 11, "labelColor": "#222222", "symbolSize": 100, "symbolOffset": 2, "labelOffset": 12, "rowPadding": 4, "padding": 7, "fillColor": "rgba(255,255,255,0.85)", "strokeColor": "#cccccc", "cornerRadius": 3, "symbolStrokeWidth": 1.3, "symbolOpacity": 1}},
        "strokeDash": {"field": "method", "type": "nominal", "scale": {"domain": ["mds","kpca","tsne","thr"], "range": [[1,0],[4,2],[6,2,1.5,2],[2.5,1.5]]},
         "legend": {"orient": "top-right", "offset": 5, "title": null, "labelExpr": "{'mds':'MDS_KMeans','kpca':'KPCA_KMeans','tsne':'TSNE_KMeans','thr':'5% Threshold'}[datum.label]", "labelFontSize": 11, "labelColor": "#222222", "symbolSize": 100, "symbolOffset": 2, "labelOffset": 12, "rowPadding": 4, "padding": 7, "fillColor": "rgba(255,255,255,0.85)", "strokeColor": "#cccccc", "cornerRadius": 3, "symbolStrokeWidth": 1.3, "symbolOpacity": 1}}}},
      {"transform": [{"filter": "datum.method === 'mds'"}], "mark": {"type": "point", "clip": true, "shape": "circle", "filled": true, "size": 22, "color": "#0000ff", "opacity": 0.85}},
      {"transform": [{"filter": "datum.method === 'kpca'"}], "mark": {"type": "point", "clip": true, "shape": "M-1,-1L1,1M-1,1L1,-1", "filled": false, "size": 28, "color": "#ff0000", "strokeWidth": 1, "opacity": 0.85}},
      {"transform": [{"filter": "datum.method === 'tsne'"}], "mark": {"type": "point", "clip": true, "shape": "diamond", "filled": true, "size": 40, "color": "#800080", "opacity": 0.85}},
      {"transform": [{"filter": "false"}], "mark": {"type": "point", "filled": true},
       "encoding": {
        "shape": {"field": "method", "type": "nominal", "scale": {"domain": ["mds","kpca","tsne","thr"], "range": ["M-2.1,0H2.1M0.55,0A0.55,0.55,0,1,1,-0.55,0A0.55,0.55,0,1,1,0.55,0","M-2.1,0H2.1M-0.5,-0.5L0.5,0.5M-0.5,0.5L0.5,-0.5","M-2.1,0H2.1M0,-0.65L0.65,0L0,0.65L-0.65,0Z","M-2.1,0H2.1"]},
         "legend": {"orient": "top-right", "offset": 5, "title": null, "labelExpr": "{'mds':'MDS_KMeans','kpca':'KPCA_KMeans','tsne':'TSNE_KMeans','thr':'5% Threshold'}[datum.label]", "labelFontSize": 11, "labelColor": "#222222", "symbolSize": 100, "symbolOffset": 2, "labelOffset": 12, "rowPadding": 4, "padding": 7, "fillColor": "rgba(255,255,255,0.85)", "strokeColor": "#cccccc", "cornerRadius": 3, "symbolStrokeWidth": 1.3, "symbolOpacity": 1}},
        "fill": {"field": "method", "type": "nominal", "scale": {"domain": ["mds","kpca","tsne","thr"], "range": ["#0000ff","#ff0000","#800080","#000000"]},
         "legend": {"orient": "top-right", "offset": 5, "title": null, "labelExpr": "{'mds':'MDS_KMeans','kpca':'KPCA_KMeans','tsne':'TSNE_KMeans','thr':'5% Threshold'}[datum.label]", "labelFontSize": 11, "labelColor": "#222222", "symbolSize": 100, "symbolOffset": 2, "labelOffset": 12, "rowPadding": 4, "padding": 7, "fillColor": "rgba(255,255,255,0.85)", "strokeColor": "#cccccc", "cornerRadius": 3, "symbolStrokeWidth": 1.3, "symbolOpacity": 1}}}}
     ]},
    {"data": {"values": [{}]}, "mark": {"type": "rule", "strokeDash": [3,2], "strokeWidth": 1, "opacity": 0.8, "color": "#000000"},
     "encoding": {"y": {"datum": 5}}}
   ]},
  {"width": 319, "height": 228, "title": {"text": "P50"},
   "layer": [
    {"data": {"name": "wp50"}, "transform": [{"fold": ["mds","kpca","tsne"], "as": ["method","y"]}],
     "encoding": {
      "x": {"field": "x", "type": "quantitative", "scale": {"domain": [-2.05, 109.05], "nice": false, "zero": false}, "axis": {"values": [0,20,40,60,80,100], "title": "Number of Clusters", "labelFlush": false}},
      "y": {"field": "y", "type": "quantitative", "scale": {"domain": [-4, 40], "nice": false, "zero": false}, "axis": {"values": [0,10,20,30,40], "labels": false, "title": null}},
      "color": {"field": "method", "type": "nominal", "scale": {"domain": ["mds","kpca","tsne","thr"], "range": ["#0000ff","#ff0000","#800080","#000000"]}, "legend": null}
     },
     "layer": [
      {"mark": {"type": "line", "clip": true, "strokeWidth": 1.3, "opacity": 0.7},
       "encoding": {"strokeDash": {"field": "method", "type": "nominal", "scale": {"domain": ["mds","kpca","tsne"], "range": [[1,0],[4,2],[6,2,1.5,2]]}, "legend": null}}},
      {"mark": {"type": "point", "clip": true, "filled": true, "strokeWidth": 1, "opacity": 0.85},
       "encoding": {
        "shape": {"field": "method", "type": "nominal", "scale": {"domain": ["mds","kpca","tsne"], "range": ["circle","M-1,-1L1,1M-1,1L1,-1","diamond"]}, "legend": null},
        "size": {"field": "method", "type": "nominal", "scale": {"domain": ["mds","kpca","tsne"], "range": [22,28,40]}, "legend": null},
        "stroke": {"field": "method", "type": "nominal", "scale": {"domain": ["mds","kpca","tsne","thr"], "range": ["#0000ff","#ff0000","#800080","#000000"]}, "legend": null}}}
     ]},
    {"data": {"values": [{}]}, "mark": {"type": "rule", "strokeDash": [3,2], "strokeWidth": 1, "opacity": 0.8, "color": "#000000"},
     "encoding": {"y": {"datum": 5}}}
   ]},
  {"width": 318, "height": 228, "title": {"text": "P10"},
   "layer": [
    {"data": {"name": "wp10"}, "transform": [{"fold": ["mds","kpca","tsne"], "as": ["method","y"]}],
     "encoding": {
      "x": {"field": "x", "type": "quantitative", "scale": {"domain": [-2.05, 109.05], "nice": false, "zero": false}, "axis": {"values": [0,20,40,60,80,100], "title": "Number of Clusters", "labelFlush": false}},
      "y": {"field": "y", "type": "quantitative", "scale": {"domain": [-4, 40], "nice": false, "zero": false}, "axis": {"values": [0,10,20,30,40], "labels": false, "title": null}},
      "color": {"field": "method", "type": "nominal", "scale": {"domain": ["mds","kpca","tsne","thr"], "range": ["#0000ff","#ff0000","#800080","#000000"]}, "legend": null}
     },
     "layer": [
      {"mark": {"type": "line", "clip": true, "strokeWidth": 1.3, "opacity": 0.7},
       "encoding": {"strokeDash": {"field": "method", "type": "nominal", "scale": {"domain": ["mds","kpca","tsne"], "range": [[1,0],[4,2],[6,2,1.5,2]]}, "legend": null}}},
      {"mark": {"type": "point", "clip": true, "filled": true, "strokeWidth": 1, "opacity": 0.85},
       "encoding": {
        "shape": {"field": "method", "type": "nominal", "scale": {"domain": ["mds","kpca","tsne"], "range": ["circle","M-1,-1L1,1M-1,1L1,-1","diamond"]}, "legend": null},
        "size": {"field": "method", "type": "nominal", "scale": {"domain": ["mds","kpca","tsne"], "range": [22,28,40]}, "legend": null},
        "stroke": {"field": "method", "type": "nominal", "scale": {"domain": ["mds","kpca","tsne","thr"], "range": ["#0000ff","#ff0000","#800080","#000000"]}, "legend": null}}}
     ]},
    {"data": {"values": [{}]}, "mark": {"type": "rule", "strokeDash": [3,2], "strokeWidth": 1, "opacity": 0.8, "color": "#000000"},
     "encoding": {"y": {"datum": 5}}}
   ]}
 ]
},
{
 "title": {"text": "Injection Rate - Relative RMSE (%) vs. Number of Clusters (Unweighted)", "fontSize": 13, "anchor": "middle", "offset": 25, "dx": -5},
 "spacing": 5,
 "resolve": {"scale": {"color": "independent", "stroke": "independent", "strokeDash": "independent", "shape": "independent", "fill": "independent", "size": "independent"}, "legend": {"color": "independent", "strokeDash": "independent", "shape": "independent", "fill": "independent"}},
 "hconcat": [
  {"width": 317, "height": 228, "title": {"text": "P90", "offset": -2},
   "layer": [
    {"data": {"name": "up90"}, "transform": [{"fold": ["mds","kpca","tsne"], "as": ["method","y"]}],
     "encoding": {
      "x": {"field": "x", "type": "quantitative", "scale": {"domain": [-2.05, 109.05], "nice": false, "zero": false}, "axis": {"values": [0,20,40,60,80,100], "title": "Number of Clusters", "labelFlush": false}},
      "y": {"field": "y", "type": "quantitative", "scale": {"domain": [-4, 40], "nice": false, "zero": false}, "axis": {"values": [0,10,20,30,40], "title": "Relative RMSE (%)", "labelPadding": 4}}
     },
     "layer": [
      {"mark": {"type": "line", "clip": true, "strokeWidth": 1.3, "opacity": 0.7},
       "encoding": {
        "color": {"field": "method", "type": "nominal", "scale": {"domain": ["mds","kpca","tsne","thr"], "range": ["#0000ff","#ff0000","#800080","#000000"]},
         "legend": {"orient": "top-right", "offset": 5, "title": null, "labelExpr": "{'mds':'MDS_KMeans','kpca':'KPCA_KMeans','tsne':'TSNE_KMeans','thr':'5% Threshold'}[datum.label]", "labelFontSize": 11, "labelColor": "#222222", "symbolSize": 100, "symbolOffset": 2, "labelOffset": 12, "rowPadding": 4, "padding": 7, "fillColor": "rgba(255,255,255,0.85)", "strokeColor": "#cccccc", "cornerRadius": 3, "symbolStrokeWidth": 1.3, "symbolOpacity": 1}},
        "strokeDash": {"field": "method", "type": "nominal", "scale": {"domain": ["mds","kpca","tsne","thr"], "range": [[1,0],[4,2],[6,2,1.5,2],[2.5,1.5]]},
         "legend": {"orient": "top-right", "offset": 5, "title": null, "labelExpr": "{'mds':'MDS_KMeans','kpca':'KPCA_KMeans','tsne':'TSNE_KMeans','thr':'5% Threshold'}[datum.label]", "labelFontSize": 11, "labelColor": "#222222", "symbolSize": 100, "symbolOffset": 2, "labelOffset": 12, "rowPadding": 4, "padding": 7, "fillColor": "rgba(255,255,255,0.85)", "strokeColor": "#cccccc", "cornerRadius": 3, "symbolStrokeWidth": 1.3, "symbolOpacity": 1}}}},
      {"transform": [{"filter": "datum.method === 'mds'"}], "mark": {"type": "point", "clip": true, "shape": "circle", "filled": true, "size": 22, "color": "#0000ff", "opacity": 0.85}},
      {"transform": [{"filter": "datum.method === 'kpca'"}], "mark": {"type": "point", "clip": true, "shape": "M-1,-1L1,1M-1,1L1,-1", "filled": false, "size": 28, "color": "#ff0000", "strokeWidth": 1, "opacity": 0.85}},
      {"transform": [{"filter": "datum.method === 'tsne'"}], "mark": {"type": "point", "clip": true, "shape": "diamond", "filled": true, "size": 40, "color": "#800080", "opacity": 0.85}},
      {"transform": [{"filter": "false"}], "mark": {"type": "point", "filled": true},
       "encoding": {
        "shape": {"field": "method", "type": "nominal", "scale": {"domain": ["mds","kpca","tsne","thr"], "range": ["M-2.1,0H2.1M0.55,0A0.55,0.55,0,1,1,-0.55,0A0.55,0.55,0,1,1,0.55,0","M-2.1,0H2.1M-0.5,-0.5L0.5,0.5M-0.5,0.5L0.5,-0.5","M-2.1,0H2.1M0,-0.65L0.65,0L0,0.65L-0.65,0Z","M-2.1,0H2.1"]},
         "legend": {"orient": "top-right", "offset": 5, "title": null, "labelExpr": "{'mds':'MDS_KMeans','kpca':'KPCA_KMeans','tsne':'TSNE_KMeans','thr':'5% Threshold'}[datum.label]", "labelFontSize": 11, "labelColor": "#222222", "symbolSize": 100, "symbolOffset": 2, "labelOffset": 12, "rowPadding": 4, "padding": 7, "fillColor": "rgba(255,255,255,0.85)", "strokeColor": "#cccccc", "cornerRadius": 3, "symbolStrokeWidth": 1.3, "symbolOpacity": 1}},
        "fill": {"field": "method", "type": "nominal", "scale": {"domain": ["mds","kpca","tsne","thr"], "range": ["#0000ff","#ff0000","#800080","#000000"]},
         "legend": {"orient": "top-right", "offset": 5, "title": null, "labelExpr": "{'mds':'MDS_KMeans','kpca':'KPCA_KMeans','tsne':'TSNE_KMeans','thr':'5% Threshold'}[datum.label]", "labelFontSize": 11, "labelColor": "#222222", "symbolSize": 100, "symbolOffset": 2, "labelOffset": 12, "rowPadding": 4, "padding": 7, "fillColor": "rgba(255,255,255,0.85)", "strokeColor": "#cccccc", "cornerRadius": 3, "symbolStrokeWidth": 1.3, "symbolOpacity": 1}}}}
     ]},
    {"data": {"values": [{}]}, "mark": {"type": "rule", "strokeDash": [3,2], "strokeWidth": 1, "opacity": 0.8, "color": "#000000"},
     "encoding": {"y": {"datum": 5}}}
   ]},
  {"width": 319, "height": 228, "title": {"text": "P50"},
   "layer": [
    {"data": {"name": "up50"}, "transform": [{"fold": ["mds","kpca","tsne"], "as": ["method","y"]}],
     "encoding": {
      "x": {"field": "x", "type": "quantitative", "scale": {"domain": [-2.05, 109.05], "nice": false, "zero": false}, "axis": {"values": [0,20,40,60,80,100], "title": "Number of Clusters", "labelFlush": false}},
      "y": {"field": "y", "type": "quantitative", "scale": {"domain": [-4, 40], "nice": false, "zero": false}, "axis": {"values": [0,10,20,30,40], "labels": false, "title": null}},
      "color": {"field": "method", "type": "nominal", "scale": {"domain": ["mds","kpca","tsne","thr"], "range": ["#0000ff","#ff0000","#800080","#000000"]}, "legend": null}
     },
     "layer": [
      {"mark": {"type": "line", "clip": true, "strokeWidth": 1.3, "opacity": 0.7},
       "encoding": {"strokeDash": {"field": "method", "type": "nominal", "scale": {"domain": ["mds","kpca","tsne"], "range": [[1,0],[4,2],[6,2,1.5,2]]}, "legend": null}}},
      {"mark": {"type": "point", "clip": true, "filled": true, "strokeWidth": 1, "opacity": 0.85},
       "encoding": {
        "shape": {"field": "method", "type": "nominal", "scale": {"domain": ["mds","kpca","tsne"], "range": ["circle","M-1,-1L1,1M-1,1L1,-1","diamond"]}, "legend": null},
        "size": {"field": "method", "type": "nominal", "scale": {"domain": ["mds","kpca","tsne"], "range": [22,28,40]}, "legend": null},
        "stroke": {"field": "method", "type": "nominal", "scale": {"domain": ["mds","kpca","tsne","thr"], "range": ["#0000ff","#ff0000","#800080","#000000"]}, "legend": null}}}
     ]},
    {"data": {"values": [{}]}, "mark": {"type": "rule", "strokeDash": [3,2], "strokeWidth": 1, "opacity": 0.8, "color": "#000000"},
     "encoding": {"y": {"datum": 5}}}
   ]},
  {"width": 318, "height": 228, "title": {"text": "P10"},
   "layer": [
    {"data": {"name": "up10"}, "transform": [{"fold": ["mds","kpca","tsne"], "as": ["method","y"]}],
     "encoding": {
      "x": {"field": "x", "type": "quantitative", "scale": {"domain": [-2.05, 109.05], "nice": false, "zero": false}, "axis": {"values": [0,20,40,60,80,100], "title": "Number of Clusters", "labelFlush": false}},
      "y": {"field": "y", "type": "quantitative", "scale": {"domain": [-4, 40], "nice": false, "zero": false}, "axis": {"values": [0,10,20,30,40], "labels": false, "title": null}},
      "color": {"field": "method", "type": "nominal", "scale": {"domain": ["mds","kpca","tsne","thr"], "range": ["#0000ff","#ff0000","#800080","#000000"]}, "legend": null}
     },
     "layer": [
      {"mark": {"type": "line", "clip": true, "strokeWidth": 1.3, "opacity": 0.7},
       "encoding": {"strokeDash": {"field": "method", "type": "nominal", "scale": {"domain": ["mds","kpca","tsne"], "range": [[1,0],[4,2],[6,2,1.5,2]]}, "legend": null}}},
      {"mark": {"type": "point", "clip": true, "filled": true, "strokeWidth": 1, "opacity": 0.85},
       "encoding": {
        "shape": {"field": "method", "type": "nominal", "scale": {"domain": ["mds","kpca","tsne"], "range": ["circle","M-1,-1L1,1M-1,1L1,-1","diamond"]}, "legend": null},
        "size": {"field": "method", "type": "nominal", "scale": {"domain": ["mds","kpca","tsne"], "range": [22,28,40]}, "legend": null},
        "stroke": {"field": "method", "type": "nominal", "scale": {"domain": ["mds","kpca","tsne","thr"], "range": ["#0000ff","#ff0000","#800080","#000000"]}, "legend": null}}}
     ]},
    {"data": {"values": [{}]}, "mark": {"type": "rule", "strokeDash": [3,2], "strokeWidth": 1, "opacity": 0.8, "color": "#000000"},
     "encoding": {"y": {"datum": 5}}}
   ]}
 ]
}
]
}
